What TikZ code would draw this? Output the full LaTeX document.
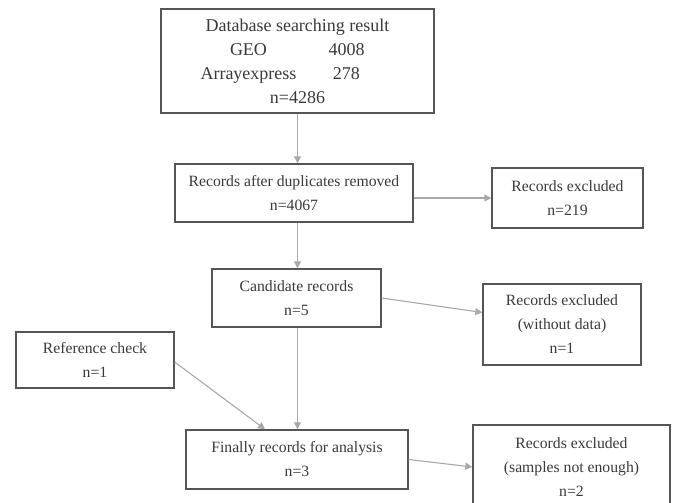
\documentclass[tikz,border=0pt]{standalone}
\usepackage{fontspec}
\setmainfont{Liberation Serif}
\usetikzlibrary{arrows.meta}
\definecolor{boxline}{HTML}{555555}
\definecolor{arrline}{HTML}{A8A8A8}
\definecolor{txt}{HTML}{3A3A3A}
\begin{document}
\begin{tikzpicture}[x=1pt,y=-1pt,
box/.style={draw=boxline,line width=1.4pt,text=txt,align=center,inner sep=0pt,font=\fontsize{15.7}{24}\selectfont},
arr/.style={draw=arrline,line width=1.1pt,-{Triangle[width=7pt,length=7pt]}}]
\useasboundingbox(0,0)rectangle(673,503);
\clip(0,0)rectangle(673,503);
\node[box,minimum width=273pt,minimum height=104pt,font=\fontsize{18}{24}\selectfont](db)at(297.5,61){Database searching result\\\makebox[98pt]{GEO}\makebox[98pt]{4008}\\\makebox[98pt]{Arrayexpress}\makebox[98pt]{278}\\n=4286};
\node[box,minimum width=238pt,minimum height=58pt](dup)at(294,193){Records after duplicates removed\\n=4067};
\node[box,minimum width=151pt,minimum height=60pt](exa)at(567.5,198){Records excluded\\n=219};
\node[box,minimum width=169pt,minimum height=58pt](cand)at(296.5,298){Candidate records\\n=5};
\node[box,minimum width=158pt,minimum height=81pt](exb)at(562,324.5){Records excluded\\(without data)\\n=1};
\node[box,minimum width=158pt,minimum height=56pt](ref)at(95,360){Reference check\\n=1};
\node[box,minimum width=222pt,minimum height=59pt](fin)at(297,459.5){Finally records for analysis\\n=3};
\node[box,minimum width=197pt,minimum height=84pt](exc)at(571.5,467){Records excluded\\(samples not enough)\\n=2};
\draw[arr](db.south)--(db.south|-dup.north);
\draw[arr](dup.east|-exa.west)--(exa.west);
\draw[arr](db.south|-dup.south)--(db.south|-cand.north);
\draw[arr](cand.east)--([yshift=12pt]exb.west);
\draw[arr](db.south|-cand.south)--(db.south|-fin.north);
\draw[arr]([yshift=-2pt]ref.east)--([xshift=-32pt]fin.north);
\draw[arr](fin.east)--(exc.west);
\end{tikzpicture}
\end{document}
